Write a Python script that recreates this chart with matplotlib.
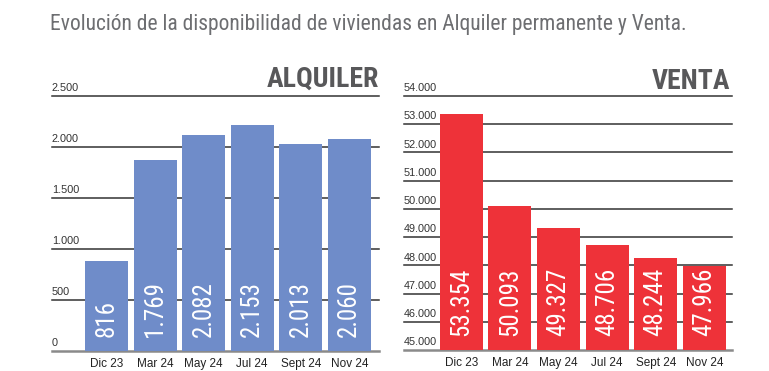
import matplotlib
matplotlib.use("Agg")
import matplotlib.pyplot as plt
from matplotlib import font_manager as fm

# ---- data ----
categories = ["Dic 23", "Mar 24", "May 24", "Jul 24", "Sept 24", "Nov 24"]
alquiler_bar_heights = [880, 1868, 2120, 2215, 2032, 2080]   # heights as drawn
alquiler_labels = ["816", "1.769", "2.082", "2.153", "2.013", "2.060"]
venta_values = [53354, 50093, 49327, 48706, 48244, 47966]
venta_labels = ["53.354", "50.093", "49.327", "48.706", "48.244", "47.966"]
alq_ticks = [0, 500, 1000, 1500, 2000, 2500]
alq_tick_labels = ["0", "500", "1.000", "1.500", "2.000", "2.500"]
ven_ticks = [45000, 46000, 47000, 48000, 49000, 50000, 51000, 52000, 53000, 54000]
ven_tick_labels = ["45.000", "46.000", "47.000", "48.000", "49.000", "50.000",
                   "51.000", "52.000", "53.000", "54.000"]

available = {f.name for f in fm.fontManager.ttflist}
narrow = None
for cand in ["Liberation Sans Narrow", "DejaVu Sans Condensed", "Roboto Condensed",
             "Open Sans Condensed", "Noto Sans Condensed", "Liberation Sans"]:
    if cand in available:
        narrow = cand
        break
if narrow is None:
    narrow = "DejaVu Sans"
body = "Liberation Sans" if "Liberation Sans" in available else "DejaVu Sans"

W, H = 769, 371
fig = plt.figure(figsize=(W / 100, H / 100), dpi=100)

BLUE = "#6F8CC9"
RED = "#EE3239"
GRID = "#333333"


def panel(left_px, right_px, bottom_px, top_px, xlim, ylim, heights, labels,
          ticks, tick_labels, color, title, title_x_px, title_base_px):
    ax = fig.add_axes([left_px / W, 1 - bottom_px / H,
                       (right_px - left_px) / W, (bottom_px - top_px) / H])
    ax.set_xlim(*xlim)
    ax.set_ylim(*ylim)
    for s in ax.spines.values():
        s.set_visible(False)
    ax.set_xticks([])
    ax.set_yticks([])
    ax.patch.set_alpha(0)
    x = list(range(len(heights)))
    for t, tl in zip(ticks, tick_labels):
        if t == ticks[0]:
            ax.axhline(t, color="#8a8a8a", lw=1.8, zorder=1, clip_on=False)
        else:
            ax.axhline(t, color=GRID, lw=1.1, zorder=1, clip_on=False)
        ax.annotate(tl, xy=(0, t), xycoords=("axes fraction", "data"),
                    xytext=(0, 2), textcoords="offset points",
                    ha="left", va="bottom", fontsize=7.8, color="#333333",
                    family=body, annotation_clip=False)
    ax.bar(x, heights, width=0.885, color=color, zorder=2)
    for xi, lab in zip(x, labels):
        ax.annotate(lab, xy=(xi, 0), xycoords=("data", "axes fraction"),
                    xytext=(0, 10), textcoords="offset points",
                    ha="center", va="bottom", rotation=90, fontsize=18,
                    color="white", family=narrow, zorder=3)
    for xi, c in zip(x, categories):
        ax.annotate(c, xy=(xi, 0), xycoords=("data", "axes fraction"),
                    xytext=(0, -5), textcoords="offset points",
                    ha="center", va="top", fontsize=8.5, color="#222222",
                    family=body, annotation_clip=False)
    fig.text(title_x_px / W, 1 - title_base_px / H, title, ha="right",
             va="baseline", fontsize=20, fontweight="bold", color="#58585a",
             family=narrow)
    return ax


panel(52, 379, 351, 96, (-1.12, 5.61), (0, 2500), alquiler_bar_heights,
      alquiler_labels, alq_ticks, alq_tick_labels, BLUE, "ALQUILER", 379, 87)
panel(404, 732, 350, 96, (-1.18, 5.57), (45000, 54000), venta_values,
      venta_labels, ven_ticks, ven_tick_labels, RED, "VENTA", 730, 89)

fig.text(50 / W, 1 - 30 / H,
         "Evolución de la disponibilidad de viviendas en Alquiler permanente y Venta.",
         ha="left", va="baseline", fontsize=15.5, color="#6d6e71", family=narrow)

fig.savefig("out.png", dpi=100)
